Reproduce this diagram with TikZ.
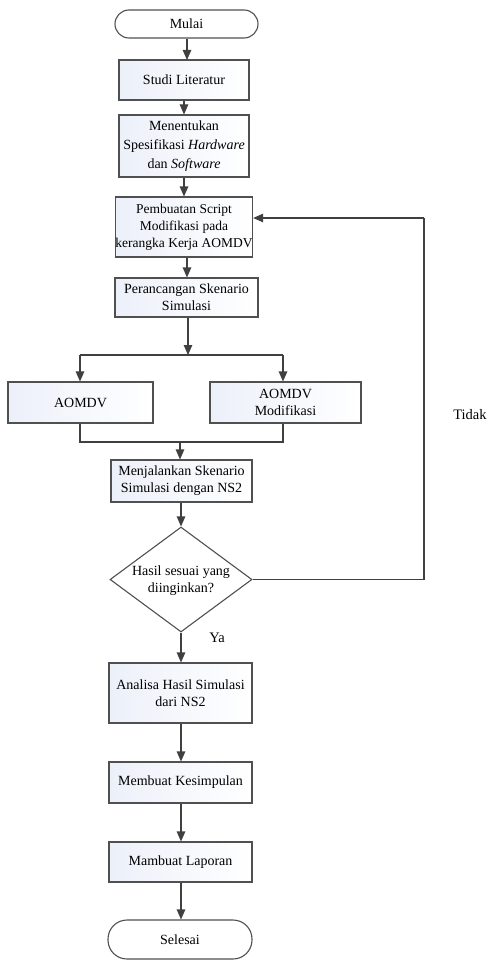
\documentclass[tikz,border=0pt]{standalone}
\usepackage{fontspec}
\setmainfont{Liberation Serif}
\usetikzlibrary{shapes.geometric,arrows.meta}
\definecolor{edge}{RGB}{80,80,80}
\definecolor{boxleft}{RGB}{236,240,249}
\begin{document}
\begin{tikzpicture}[x=1pt,y=-1pt,
  every node/.style={font=\fontsize{14}{17}\selectfont, inner sep=0pt, align=center},
  proc/.style={draw=edge, line width=1.1pt, left color=boxleft, right color=white, shading angle=90, minimum width=#1, rectangle},
  proc/.default=130pt,
  term/.style={draw=edge, line width=1.1pt, fill=white, rounded corners=14pt, rectangle, minimum width=#1},
  term/.default=143pt,
  conn/.style={draw=edge!80!black, line width=1.1pt},
  arr/.style={conn, -{Triangle[width=8.5pt,length=10pt]}},
  lbl/.style={font=\fontsize{14.5}{17}\selectfont}
]
\useasboundingbox (0,0) rectangle (492,960);

\node[term=143pt, minimum height=28pt] (start) at (186.5,24) {Mulai};
\node[proc=130pt, minimum height=40pt] (studi) at (184,80) {Studi Literatur};
\node[proc=130pt, minimum height=62pt, font=\fontsize{14}{19}\selectfont] (spek) at (184,146) {Menentukan\\Spesifikasi \textit{Hardware}\\dan \textit{Software}};
\node[proc=130pt, minimum height=60pt, font=\fontsize{13.5}{17}\selectfont] (script) at (184,227) {Pembuatan Script\\Modifikasi pada\\kerangka Kerja AOMDV};
\node[proc=143pt, minimum height=39pt] (peran) at (186.5,297.5) {Perancangan Skenario\\Simulasi};
\node[proc=145pt, minimum height=41pt] (aomdv) at (80.5,402.5) {AOMDV};
\node[proc=151pt, minimum height=41pt] (aomdvm) at (285.5,402.5) {AOMDV\\Modifikasi};
\node[proc=141pt, minimum height=42pt] (jalan) at (181.5,481) {Menjalankan Skenario\\Simulasi dengan NS2};
\node[draw=edge, line width=1.1pt, fill=white, shape=diamond, minimum width=142pt, minimum height=105pt, aspect=1.35] (dec) at (181,579.5) {};
\node (dectext) at (181,581) {Hasil sesuai yang\\diinginkan?};
\node[proc=143pt, minimum height=60pt] (analisa) at (180.5,693) {Analisa Hasil Simulasi\\dari NS2};
\node[proc=143pt, minimum height=41pt] (simpul) at (180.5,782.5) {Membuat Kesimpulan};
\node[proc=143pt, minimum height=40pt] (lapor) at (180.5,862) {Mambuat Laporan};
\node[term=144pt, minimum height=39pt, rounded corners=19pt] (end) at (180,939.5) {Selesai};

\node[lbl] (tidak) at (470,415) {Tidak};
\node[lbl] (ya) at (217,638) {Ya};

% coordinates
\coordinate (split) at (188,355);
\coordinate (sl) at (80,355);
\coordinate (sr) at (283,355);
\coordinate (merge) at (180,442);
\coordinate (fbx) at (424,579.5);
\coordinate (fby) at (424,218);

\draw[arr] (start.south -| 187,0) -- (187,60);
\draw[arr] (studi.south) -- (spek.north);
\draw[arr] (spek.south) -- (script.north);
\draw[arr] (script.south -| 187,0) -- (peran.north -| 187,0);
\draw[arr] (peran.south -| split) -- (split);
\draw[conn] (sl) -- (sr);
\draw[arr] (sl) -- (sl |- aomdv.north);
\draw[arr] (sr) -- (sr |- aomdvm.north);
\draw[conn] (sl |- aomdv.south) -- (sl |- merge) -- (sr |- merge) -- (sr |- aomdvm.south);
\draw[arr] (merge) -- (merge |- jalan.north);
\draw[arr] (jalan.south -| dec.north) -- (dec.north);
\draw[conn] (dec.east) -- (fbx) -- (fby);
\draw[arr] (fby) -- (script.east |- fby);
\draw[arr] (dec.south) -- (dec.south |- analisa.north);
\draw[arr] (analisa.south -| dec.south) -- (dec.south |- simpul.north);
\draw[arr] (simpul.south -| dec.south) -- (dec.south |- lapor.north);
\draw[arr] (lapor.south -| dec.south) -- (dec.south |- end.north);
\end{tikzpicture}
\end{document}
